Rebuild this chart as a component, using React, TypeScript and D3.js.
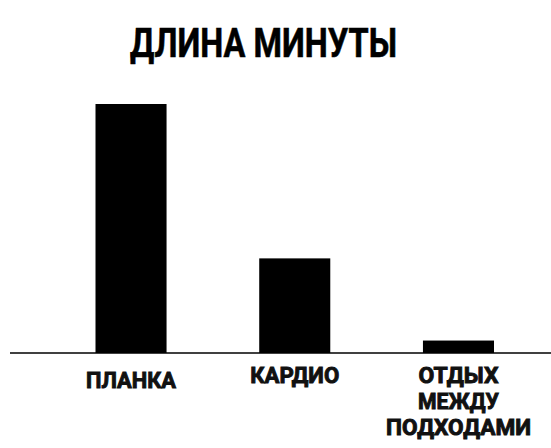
import React from 'react';
import * as d3 from 'd3';

const title = 'ДЛИНА МИНУТЫ';
const categories = ['ПЛАНКА', 'КАРДИО', 'ОТДЫХ МЕЖДУ ПОДХОДАМИ'];
const labelLines = [['ПЛАНКА'], ['КАРДИО'], ['ОТДЫХ', 'МЕЖДУ', 'ПОДХОДАМИ']];
const values = [100, 38, 5];

const width = 551;
const height = 448;
const baseline = 353;
const font = 'Roboto, "DejaVu Sans", sans-serif';

// widths of the condensed lettering in the picture
const textWidths: Record<string, number> = {
  'ДЛИНА МИНУТЫ': 267,
  'ПЛАНКА': 90,
  'КАРДИО': 89,
  'ОТДЫХ': 80,
  'МЕЖДУ': 81,
  'ПОДХОДАМИ': 145,
};

export default function App() {
  const x = d3.scaleBand<string>()
      .domain(categories)
      .range([95.5, 494])
      .paddingInner(0.566)
      .paddingOuter(0);
  const y = d3.scaleLinear().domain([0, 100]).range([baseline, 104]);

  return (
    <div style={{position: 'fixed', left: 0, top: 0}}>
      <svg width={width} height={height} style={{display: 'block', background: '#fff'}}>
        <text x={130} y={57.3} fontFamily={font} fontWeight={700} fontSize={40}
              fill="#000" stroke="#000" strokeWidth={0.6}
              textLength={textWidths[title]} lengthAdjust="spacingAndGlyphs">{title}</text>

        {categories.map((c, i) => (
          <rect key={c} x={x(c)} y={y(values[i])} width={x.bandwidth()}
                height={baseline - y(values[i])} fill="#000"/>
        ))}

        <line x1={10} x2={width} y1={baseline} y2={baseline} stroke="#000" strokeWidth={1.5}/>

        {categories.map((c, i) => {
          const cx = (x(c) ?? 0) + x.bandwidth() / 2;
          const y0 = i === 0 ? 388.3 : 383;
          return (
            <text key={c} y={y0} fontFamily={font} fontWeight={700} fontSize={21.8}
                  fill="#111" stroke="#111" strokeWidth={0.9}>
              {labelLines[i].map((line, j) => (
                <tspan key={line} x={cx - textWidths[line] / 2} dy={j === 0 ? 0 : 25.8}
                       textLength={textWidths[line]} lengthAdjust="spacingAndGlyphs">{line}</tspan>
              ))}
            </text>
          );
        })}
      </svg>
    </div>
  );
}
